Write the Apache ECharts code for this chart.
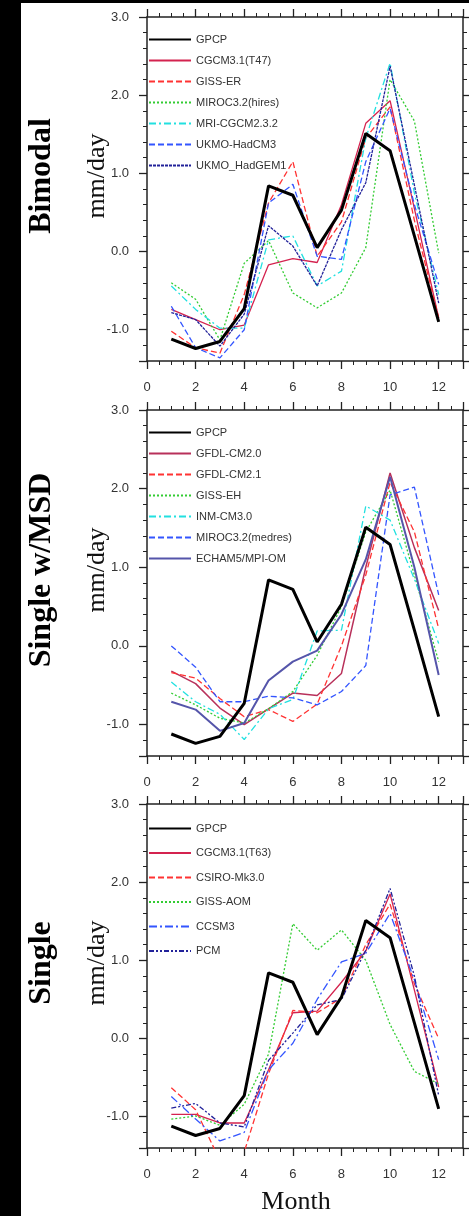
<!DOCTYPE html>
<html>
<head>
<meta charset="utf-8">
<script src="https://cdn.jsdelivr.net/npm/echarts@6/dist/echarts.min.js"></script>
<style>
  html, body { margin: 0; padding: 0; background: #fff; }
  #chart { width: 469px; height: 1216px; }
  .bar { position: absolute; background: #000; }
</style>
</head>
<body>
<div id="chart"></div>
<div class="bar" style="left:0;top:0;width:21px;height:1216px"></div>
<div class="bar" style="left:0;top:0;width:469px;height:3px"></div>
<script>
// months on the x axis
var months = [1, 2, 3, 4, 5, 6, 7, 8, 9, 10, 11, 12];
var panelTitles = ['Bimodal', 'Single w/MSD', 'Single'];

// observed
var gpcp = [-1.12, -1.24, -1.15, -0.73, 0.84, 0.72, 0.05, 0.53, 1.51, 1.29, 0.2, -0.9];

// panel 1 - bimodal models
var cgcmT47 = [-0.74, -0.87, -1.0, -0.94, -0.17, -0.09, -0.14, 0.6, 1.64, 1.93, 0.55, -0.85];
var gissER = [-1.02, -1.23, -1.3, -0.55, 0.62, 1.15, -0.06, 0.38, 1.45, 1.85, 0.4, -0.85];
var mirocHires = [-0.4, -0.61, -1.13, -0.15, 0.14, -0.53, -0.72, -0.53, 0.05, 2.2, 1.67, -0.02];
var mriCgcm = [-0.44, -0.74, -0.98, -0.98, 0.15, 0.2, -0.44, -0.25, 1.45, 2.41, 0.75, -0.55];
var ukmoHadcm3 = [-0.7, -1.23, -1.36, -1.0, 0.62, 0.86, -0.06, -0.1, 1.15, 1.83, 0.6, -0.42];
var ukmoHadgem1 = [-0.78, -0.87, -1.21, -0.8, 0.33, 0.07, -0.44, 0.28, 0.88, 2.37, 0.85, -0.66];

// panel 2 - single peak with MSD
var gfdl20 = [-0.32, -0.48, -0.79, -1.0, -0.8, -0.6, -0.63, -0.35, 1.0, 2.2, 1.25, 0.45];
var gfdl21 = [-0.34, -0.41, -0.67, -0.9, -0.81, -0.96, -0.74, 0.0, 0.9, 2.08, 1.45, 0.22];
var gissEH = [-0.6, -0.75, -0.92, -0.98, -0.8, -0.58, -0.12, 0.5, 1.45, 1.98, 0.9, -0.2];
var inmCm3 = [-0.46, -0.71, -0.87, -1.19, -0.8, -0.68, 0.19, 0.2, 1.78, 1.6, 0.85, 0.03];
var mirocMedres = [0.0, -0.27, -0.71, -0.71, -0.64, -0.66, -0.75, -0.58, -0.25, 1.92, 2.02, 0.65];
var echam5 = [-0.71, -0.81, -1.08, -0.98, -0.44, -0.2, -0.06, 0.4, 1.1, 2.15, 1.0, -0.37];

// panel 3 - single peak
var cgcmT63 = [-0.97, -0.97, -1.08, -1.08, -0.4, 0.33, 0.35, 0.72, 1.12, 1.85, 0.62, -0.62];
var csiro = [-0.63, -0.91, -1.56, -1.45, -0.45, 0.36, 0.33, 0.52, 1.2, 1.72, 0.7, 0.0];
var gissAOM = [-1.03, -0.99, -1.11, -0.84, -0.2, 1.47, 1.13, 1.39, 1.0, 0.18, -0.42, -0.58];
var ccsm3 = [-0.74, -1.03, -1.31, -1.2, -0.4, -0.06, 0.5, 0.98, 1.09, 1.6, 0.75, -0.27];
var pcm = [-0.89, -0.83, -1.08, -1.13, -0.28, 0.07, 0.43, 0.5, 1.13, 1.92, 0.8, -0.73];

// line styles
var sty = {
  obs:     { color: '#000000', width: 3, type: 'solid' },
  crimson: { color: '#d4234f', width: 1.3, type: 'solid' },
  maroon:  { color: '#b8305a', width: 1.5, type: 'solid' },
  red:     { color: '#ff3333', width: 1.3, type: [6, 3] },
  green:   { color: '#33cc33', width: 1.3, type: [2, 2] },
  cyan:    { color: '#22e0e0', width: 1.3, type: [7, 3, 2, 3] },
  blue:    { color: '#3355ff', width: 1.3, type: [6, 3] },
  blueDd:  { color: '#3355ff', width: 1.3, type: [8, 3, 2, 3] },
  navy:    { color: '#22229a', width: 1.3, type: [3, 1] },
  navyDd:  { color: '#22229a', width: 1.3, type: [5, 2, 2, 2, 2, 2] },
  slate:   { color: '#5555aa', width: 2, type: 'solid' }
};

var panels = [
  [['GPCP', gpcp, sty.obs], ['CGCM3.1(T47)', cgcmT47, sty.crimson], ['GISS-ER', gissER, sty.red],
   ['MIROC3.2(hires)', mirocHires, sty.green], ['MRI-CGCM2.3.2', mriCgcm, sty.cyan],
   ['UKMO-HadCM3', ukmoHadcm3, sty.blue], ['UKMO_HadGEM1', ukmoHadgem1, sty.navy]],
  [['GPCP', gpcp, sty.obs], ['GFDL-CM2.0', gfdl20, sty.maroon], ['GFDL-CM2.1', gfdl21, sty.red],
   ['GISS-EH', gissEH, sty.green], ['INM-CM3.0', inmCm3, sty.cyan],
   ['MIROC3.2(medres)', mirocMedres, sty.blue], ['ECHAM5/MPI-OM', echam5, sty.slate]],
  [['GPCP', gpcp, sty.obs], ['CGCM3.1(T63)', cgcmT63, sty.crimson], ['CSIRO-Mk3.0', csiro, sty.red],
   ['GISS-AOM', gissAOM, sty.green], ['CCSM3', ccsm3, sty.blueDd], ['PCM', pcm, sty.navyDd]]
];

var gridTops = [17, 410, 804];
var gridHeights = [344, 346, 344];
var legendTops = [34, 427, 823];
var legendGaps = [10, 10, 13.5];

var sans = '"Liberation Sans", Arial, sans-serif';
var serif = '"Liberation Serif", "Times New Roman", serif';
var axisColor = '#222';

var grids = [], xAxes = [], yAxes = [], series = [], legends = [], graphics = [];

panels.forEach(function (panel, p) {
  grids.push({ left: 147, top: gridTops[p], width: 316, height: gridHeights[p] });

  [false, true].forEach(function (isTop) {
    xAxes.push({
      type: 'value', gridIndex: p, position: isTop ? 'top' : 'bottom',
      min: 0, max: 13, interval: 2,
      axisLine: { show: true, onZero: false, lineStyle: { color: axisColor, width: 1.5 } },
      axisTick: { show: true, length: 8, lineStyle: { color: axisColor, width: 1.3 } },
      minorTick: { show: true, splitNumber: 4, length: 4, lineStyle: { color: axisColor, width: 1 } },
      splitLine: { show: false },
      axisLabel: {
        show: !isTop, margin: 20, color: '#333', fontSize: 13, fontFamily: sans,
        formatter: function (v) { return v % 2 === 0 ? String(v) : ''; }
      }
    });
    yAxes.push({
      type: 'value', gridIndex: p, position: isTop ? 'right' : 'left',
      min: -1.4, max: 3.0,
      axisLine: { show: true, onZero: false, lineStyle: { color: axisColor, width: 1.5 } },
      axisTick: { show: true, length: 8, lineStyle: { color: axisColor, width: 1.3 } },
      minorTick: { show: true, splitNumber: 5, length: 4, lineStyle: { color: axisColor, width: 1 } },
      splitLine: { show: false },
      axisLabel: {
        show: !isTop, margin: 18, color: '#333', fontSize: 13, fontFamily: sans,
        formatter: function (v) {
          if (Math.abs(v - Math.round(v)) > 1e-6) return '';
          var r = Math.round(v);
          return r < 0 ? '-' + Math.abs(r).toFixed(1) : r.toFixed(1);
        }
      }
    });
  });

  var names = [];
  panel.forEach(function (s) {
    names.push(s[0]);
    series.push({
      name: s[0], type: 'line', xAxisIndex: 2 * p, yAxisIndex: 2 * p,
      data: months.map(function (m, i) { return [m, s[1][i]]; }),
      showSymbol: false, symbol: 'none', clip: true,
      lineStyle: { color: s[2].color, width: s[2].width, type: s[2].type },
      itemStyle: { color: s[2].color },
      z: s[0] === 'GPCP' ? 5 : 3
    });
  });

  legends.push({
    orient: 'vertical', left: 148, top: legendTops[p], padding: 0,
    itemWidth: 42, itemHeight: 11, itemGap: legendGaps[p],
    data: names, selectedMode: false,
    itemStyle: { opacity: 0 },
    textStyle: { color: '#333', fontSize: 11, fontFamily: sans }
  });

  var midY = gridTops[p] + gridHeights[p] / 2 - 13;
  graphics.push({
    type: 'text', rotation: Math.PI / 2, position: [42, midY], style: {
      text: panelTitles[p], font: 'bold 32px ' + serif, fill: '#000',
      textAlign: 'center', textVerticalAlign: 'middle'
    }
  });
  graphics.push({
    type: 'text', rotation: Math.PI / 2, position: [97, midY], style: {
      text: 'mm/day', font: '26px ' + serif, fill: '#111',
      textAlign: 'center', textVerticalAlign: 'middle'
    }
  });
});

graphics.push({
  type: 'text', position: [296, 1202], style: {
    text: 'Month', font: '26px ' + serif, fill: '#111',
    textAlign: 'center', textVerticalAlign: 'middle'
  }
});

var chart = echarts.init(document.getElementById('chart'), null, { renderer: 'canvas' });
chart.setOption({
  backgroundColor: '#fff',
  animation: false,
  grid: grids,
  xAxis: xAxes,
  yAxis: yAxes,
  legend: legends,
  series: series,
  graphic: graphics
});
</script>
</body>
</html>
